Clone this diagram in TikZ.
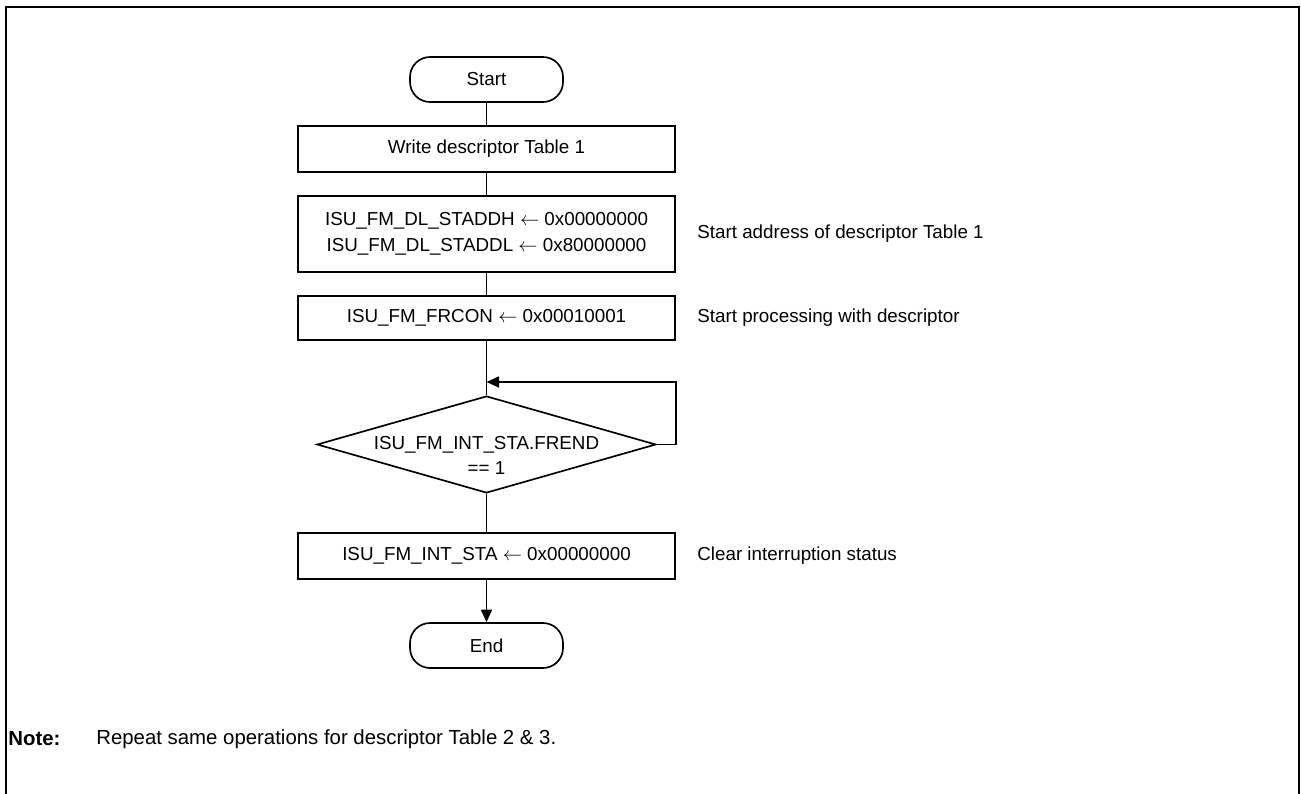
\documentclass[tikz,border=0pt]{standalone}
\usepackage{fontspec}
\setmainfont{Liberation Sans}
\usepackage{tikz}
\usetikzlibrary{shapes.geometric, arrows.meta, positioning}

\begin{document}
\begin{tikzpicture}[
    x=0.02cm, y=-0.02cm,
    font=\fontsize{10.7}{14.5}\selectfont,
    terminal/.style = {rectangle, rounded corners=0.4cm, draw, line width=0.95pt, minimum width=3.06cm, minimum height=0.9cm, inner sep=0pt},
    process/.style  = {rectangle, draw, line width=0.95pt, minimum width=7.54cm, minimum height=0.92cm, inner sep=0pt, align=center},
    decision/.style = {diamond, draw, line width=0.95pt, minimum width=6.78cm, minimum height=1.94cm, inner sep=0pt},
    remark/.style   = {anchor=west, inner sep=0pt},
    flow/.style     = {draw, line width=0.95pt},
    flowarr/.style  = {draw, line width=0.95pt, -{Triangle[length=0.25cm, width=0.22cm]}},
    frame/.style    = {draw, line width=1.2pt}
]
\useasboundingbox (0,0) rectangle (1301,794);

% Frame (open at the bottom)
\draw [frame] (6,794) -- (6,7) -- (1299,7) -- (1299,794);

% Flow
\node (start)  [terminal] at (486.5, 79.5) {Start};
\node (wrtab)  [process]  at (486.5, 149)  {Write descriptor Table 1};
\node (staddr) [process, minimum height=1.52cm] at (486.5, 234)
      {ISU\_FM\_DL\_STADDH $\leftarrow$ 0x00000000\\ISU\_FM\_DL\_STADDL $\leftarrow$ 0x80000000};
\node (frcon)  [process, minimum height=0.88cm] at (486.5, 318) {ISU\_FM\_FRCON $\leftarrow$ 0x00010001};
\coordinate (loopin) at (486.5, 382);
\node (chk)    [decision, label={[align=center, yshift=-0.22cm]center:ISU\_FM\_INT\_STA.FREND\\== 1}] at (486.5, 444.5) {};
\node (clrsta) [process]  at (486.5, 556)  {ISU\_FM\_INT\_STA $\leftarrow$ 0x00000000};
\node (stop)   [terminal] at (486.5, 645.5) {End};

% Remarks
\node (rmaddr) [remark] at (697, 234) {Start address of descriptor Table 1};
\node (rmproc) [remark] at (697, 318) {Start processing with descriptor};
\node (rmclr)  [remark] at (697, 556) {Clear interruption status};

% Connectors
\draw [flow] (start) -- (wrtab);
\draw [flow] (wrtab) -- (staddr);
\draw [flow] (staddr) -- (frcon);
\draw [flow] (frcon) -- (chk);
\draw [flowarr] (chk.east) -- ++(19,0) |- (loopin);
\draw [flow] (chk) -- (clrsta);
\draw [flowarr] (clrsta) -- (stop);

% Note
\node (notehd)  [remark, font=\fontsize{11.6}{14}\selectfont\bfseries] at (8, 739) {Note:};
\node (notetxt) [remark, font=\fontsize{11.6}{14}\selectfont] at (96, 739) {Repeat same operations for descriptor Table 2 \& 3.};

\end{tikzpicture}
\end{document}
